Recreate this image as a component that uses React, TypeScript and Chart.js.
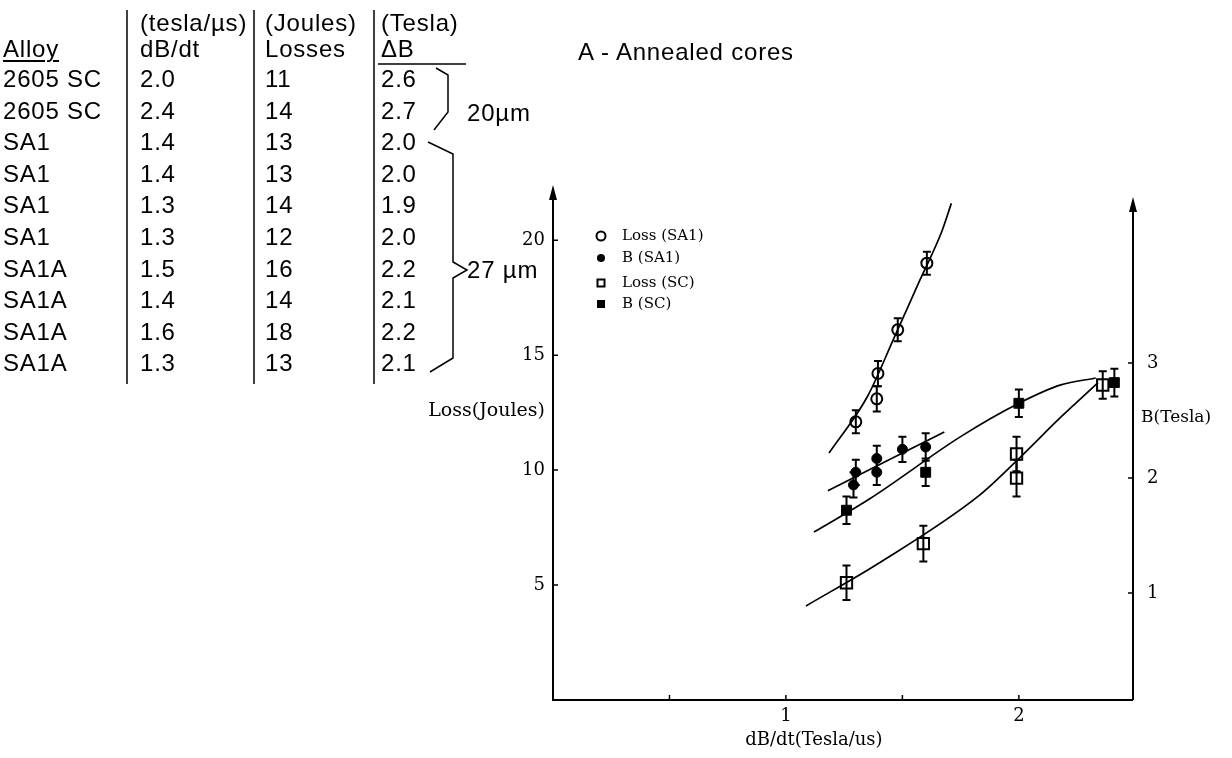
import React, { useEffect, useRef } from 'react';
import { Chart, registerables } from 'chart.js';

Chart.register(...registerables);

// ---------- table data ----------
const tableHeaderUnits = ['', '(tesla/\u00b5s)', '(Joules)', '(Tesla)'];
const tableHeaderNames = ['Alloy', 'dB/dt', 'Losses', '\u0394B'];
const tableAlloys = ['2605 SC', '2605 SC', 'SA1', 'SA1', 'SA1', 'SA1', 'SA1A', 'SA1A', 'SA1A', 'SA1A'];
const tableDbDt = ['2.0', '2.4', '1.4', '1.4', '1.3', '1.3', '1.5', '1.4', '1.6', '1.3'];
const tableLosses = ['11', '14', '13', '13', '14', '12', '16', '14', '18', '13'];
const tableDeltaB = ['2.6', '2.7', '2.0', '2.0', '1.9', '2.0', '2.2', '2.1', '2.2', '2.1'];
const groupLabels = ['20\u00b5m', '27 \u00b5m'];
const figureTitle = 'A - Annealed cores';

// ---------- chart data ----------
const seriesLabels = ['Loss (SA1)', 'B (SA1)', 'Loss (SC)', 'B (SC)'];
const xAxisTitle = 'dB/dt(Tesla/us)';
const yAxisTitle = 'Loss(Joules)';
const y2AxisTitle = 'B(Tesla)';

const lossSA1X = [1.30, 1.39, 1.395, 1.48, 1.605];
const lossSA1Y = [12.1, 13.1, 14.2, 16.1, 19.0];
const lossSA1Err = [0.5, 0.55, 0.55, 0.5, 0.5];

const bSA1X = [1.30, 1.29, 1.39, 1.39, 1.50, 1.60];
const bSA1Y = [2.05, 1.94, 2.17, 2.05, 2.25, 2.27];
const bSA1Err = [0.11, 0.11, 0.11, 0.11, 0.11, 0.12];

const lossSCX = [1.26, 1.59, 1.99, 1.99, 2.36];
const lossSCY = [5.1, 6.8, 10.7, 9.65, 13.7];
const lossSCErr = [0.75, 0.78, 0.75, 0.8, 0.6];

const bSCX = [1.26, 1.60, 2.00, 2.41];
const bSCY = [1.72, 2.05, 2.65, 2.83];
const bSCErr = [0.12, 0.12, 0.12, 0.12];

// fitted curves
const lossSA1CurveX = [1.185, 1.35, 1.46, 1.575, 1.67, 1.71];
const lossSA1CurveY = [10.74, 13.2, 15.65, 18.26, 20.4, 21.6];
const bSA1LineX = [1.18, 1.68];
const bSA1LineY = [1.89, 2.40];
const bSCCurveX = [1.12, 1.36, 1.75, 2.0, 2.18, 2.33];
const bSCCurveY = [1.53, 1.82, 2.36, 2.65, 2.81, 2.87];
const lossSCCurveX = [1.086, 1.40, 1.83, 2.0, 2.18, 2.34];
const lossSCCurveY = [4.09, 5.96, 8.9, 10.5, 12.3, 13.8];

const xTickValues = [0.5, 1, 1.5, 2];
const xTickLabels = ['', '1', '', '2'];
const yTickValues = [5, 10, 15, 20];
const y2TickValues = [1, 2, 3];

const SERIF = '"DejaVu Serif", serif';
const SANS = '"Liberation Sans", Arial, sans-serif';

const pts = (xs: number[], ys: number[]) => xs.map((x, i) => ({ x, y: ys[i] }));

const errorBarPlugin = {
  id: 'errorBars',
  afterDatasetsDraw(chart: any) {
    const ctx = chart.ctx;
    ctx.save();
    ctx.strokeStyle = '#000';
    ctx.lineWidth = 2;
    chart.data.datasets.forEach((ds: any, i: number) => {
      if (!ds.errors) return;
      const meta = chart.getDatasetMeta(i);
      const scale = chart.scales[ds.yAxisID];
      meta.data.forEach((el: any, j: number) => {
        const v = ds.data[j].y;
        const e = ds.errors[j];
        const yt = scale.getPixelForValue(v + e);
        const yb = scale.getPixelForValue(v - e);
        const x = el.x;
        ctx.beginPath();
        ctx.moveTo(x, yt);
        ctx.lineTo(x, yb);
        ctx.moveTo(x - 4, yt);
        ctx.lineTo(x + 4, yt);
        ctx.moveTo(x - 4, yb);
        ctx.lineTo(x + 4, yb);
        ctx.stroke();
      });
    });
    ctx.restore();
  },
};

const axesPlugin = {
  id: 'axesDraw',
  afterDraw(chart: any) {
    const ctx = chart.ctx;
    const { left, right, top, bottom } = chart.chartArea;
    const { x, y, y2 } = chart.scales;
    ctx.save();
    ctx.strokeStyle = '#000';
    ctx.fillStyle = '#000';
    ctx.lineWidth = 2;
    ctx.beginPath();
    ctx.moveTo(left, top + 6);
    ctx.lineTo(left, bottom);
    ctx.lineTo(right, bottom);
    ctx.moveTo(right, bottom);
    ctx.lineTo(right, top + 18);
    ctx.stroke();
    const arrow = (ax: number, ay: number) => {
      ctx.beginPath();
      ctx.moveTo(ax, ay);
      ctx.lineTo(ax - 4, ay + 15);
      ctx.lineTo(ax + 4, ay + 15);
      ctx.closePath();
      ctx.fill();
    };
    arrow(left, top);
    arrow(right, top + 12);
    ctx.lineWidth = 1.5;
    ctx.beginPath();
    yTickValues.forEach((v) => {
      const py = y.getPixelForValue(v);
      ctx.moveTo(left, py);
      ctx.lineTo(left + 5, py);
    });
    y2TickValues.forEach((v) => {
      const py = y2.getPixelForValue(v);
      ctx.moveTo(right, py);
      ctx.lineTo(right - 5, py);
    });
    xTickValues.forEach((v) => {
      const px = x.getPixelForValue(v);
      ctx.moveTo(px, bottom);
      ctx.lineTo(px, bottom - 5);
    });
    ctx.stroke();
    ctx.textBaseline = 'middle';
    ctx.font = '19px ' + SERIF;
    ctx.textAlign = 'right';
    ctx.fillText(yAxisTitle, left - 8, y.getPixelForValue(12.55));
    ctx.font = '17px ' + SERIF;
    ctx.textAlign = 'left';
    ctx.fillText(y2AxisTitle, right + 8, y2.getPixelForValue(2.53));
    ctx.font = '18px ' + SERIF;
    ctx.textAlign = 'center';
    ctx.fillText(xAxisTitle, x.getPixelForValue(1.12), bottom + 40);
    ctx.restore();
  },
};

const legendPlugin = {
  id: 'customLegend',
  afterDraw(chart: any) {
    const ctx = chart.ctx;
    const { left, top } = chart.chartArea;
    const mx = left + 48;
    const tx = left + 69;
    const rows = [top + 51, top + 73, top + 98, top + 119];
    ctx.save();
    ctx.strokeStyle = '#000';
    ctx.fillStyle = '#000';
    ctx.lineWidth = 2;
    ctx.beginPath();
    ctx.arc(mx, rows[0], 4.5, 0, Math.PI * 2);
    ctx.stroke();
    ctx.beginPath();
    ctx.arc(mx, rows[1], 4, 0, Math.PI * 2);
    ctx.fill();
    ctx.strokeRect(mx - 3.5, rows[2] - 3.5, 7, 7);
    ctx.fillRect(mx - 4, rows[3] - 4, 8, 8);
    ctx.font = '15px ' + SERIF;
    ctx.textBaseline = 'middle';
    ctx.textAlign = 'left';
    seriesLabels.forEach((t, i) => ctx.fillText(t, tx, rows[i]));
    ctx.restore();
  },
};

function Txt(props: { x: number; y: number; text: string; underline?: boolean }) {
  return (
    <div
      style={{
        position: 'absolute',
        left: props.x,
        top: props.y - 15,
        height: 30,
        lineHeight: '30px',
        fontSize: 24,
        letterSpacing: '0.8px',
        fontFamily: SANS,
        color: '#000',
        whiteSpace: 'nowrap',
        textDecoration: props.underline ? 'underline' : 'none',
        textDecorationThickness: props.underline ? '1.5px' : undefined,
        textUnderlineOffset: props.underline ? '3px' : undefined,
      }}
    >
      {props.text}
    </div>
  );
}

export default function App() {
  const canvasRef = useRef<HTMLCanvasElement>(null);

  useEffect(() => {
    const canvas = canvasRef.current;
    if (!canvas) return;
    const black = '#000';
    const curve = (xs: number[], ys: number[], axis: string) => ({
      type: 'line' as const,
      data: pts(xs, ys),
      yAxisID: axis,
      borderColor: black,
      borderWidth: 1.7,
      pointRadius: 0,
      fill: false,
      cubicInterpolationMode: 'monotone' as const,
    });
    const chart = new Chart(canvas, {
      type: 'scatter',
      data: {
        datasets: [
          curve(lossSA1CurveX, lossSA1CurveY, 'y'),
          curve(bSA1LineX, bSA1LineY, 'y2'),
          curve(bSCCurveX, bSCCurveY, 'y2'),
          curve(lossSCCurveX, lossSCCurveY, 'y'),
          {
            label: seriesLabels[0],
            data: pts(lossSA1X, lossSA1Y),
            yAxisID: 'y',
            pointStyle: 'circle',
            pointRadius: 5.5,
            pointBackgroundColor: '#fff',
            pointBorderColor: black,
            pointBorderWidth: 2,
            errors: lossSA1Err,
          } as any,
          {
            label: seriesLabels[1],
            data: pts(bSA1X, bSA1Y),
            yAxisID: 'y2',
            pointStyle: 'circle',
            pointRadius: 5,
            pointBackgroundColor: black,
            pointBorderColor: black,
            pointBorderWidth: 1,
            errors: bSA1Err,
          } as any,
          {
            label: seriesLabels[2],
            data: pts(lossSCX, lossSCY),
            yAxisID: 'y',
            pointStyle: 'rect',
            pointRadius: 8,
            pointBackgroundColor: '#fff',
            pointBorderColor: black,
            pointBorderWidth: 2,
            errors: lossSCErr,
          } as any,
          {
            label: seriesLabels[3],
            data: pts(bSCX, bSCY),
            yAxisID: 'y2',
            pointStyle: 'rect',
            pointRadius: 7,
            pointBackgroundColor: black,
            pointBorderColor: black,
            pointBorderWidth: 1,
            errors: bSCErr,
          } as any,
        ],
      },
      options: {
        animation: false,
        responsive: false,
        events: [],
        layout: { padding: { left: 493, right: 39, top: 185, bottom: 0 } },
        plugins: { legend: { display: false }, tooltip: { enabled: false } },
        scales: {
          x: {
            type: 'linear',
            position: 'bottom',
            min: 0,
            max: 2.49,
            grid: { display: false, drawTicks: false },
            border: { display: false },
            afterBuildTicks: (s: any) => {
              s.ticks = xTickValues.map((v) => ({ value: v }));
            },
            ticks: {
              autoSkip: false,
              maxRotation: 0,
              padding: 6,
              color: '#000',
              font: { size: 18, family: SERIF },
              callback: (v: any) => xTickLabels[xTickValues.indexOf(Number(v))] ?? '',
            },
            afterFit: (s: any) => {
              s.height = 58;
            },
          },
          y: {
            type: 'linear',
            position: 'left',
            min: 0,
            max: 22.4,
            grid: { display: false, drawTicks: false },
            border: { display: false },
            afterBuildTicks: (s: any) => {
              s.ticks = yTickValues.map((v) => ({ value: v }));
            },
            ticks: {
              autoSkip: false,
              padding: 8,
              color: '#000',
              font: { size: 18, family: SERIF },
            },
            afterFit: (s: any) => {
              s.width = 60;
            },
          },
          y2: {
            type: 'linear',
            position: 'right',
            min: 0.07,
            max: 4.548,
            grid: { display: false, drawTicks: false },
            border: { display: false },
            afterBuildTicks: (s: any) => {
              s.ticks = y2TickValues.map((v) => ({ value: v }));
            },
            ticks: {
              autoSkip: false,
              padding: 14,
              color: '#000',
              font: { size: 18, family: SERIF },
            },
            afterFit: (s: any) => {
              s.width = 60;
            },
          },
        },
      } as any,
      plugins: [errorBarPlugin, axesPlugin, legendPlugin],
    });
    return () => chart.destroy();
  }, []);

  const rowY = (i: number) => 79 + i * 31.6;
  const colX = [3, 140, 265, 381];
  const columns = [tableAlloys, tableDbDt, tableLosses, tableDeltaB];

  return (
    <div style={{ position: 'absolute', left: 0, top: 0, width: 1232, height: 758, background: '#fff', overflow: 'hidden' }}>
      <canvas ref={canvasRef} width={1232} height={758} style={{ position: 'absolute', left: 0, top: 0 }} />
      {tableHeaderUnits.map((t, c) => (t ? <Txt key={'hu' + c} x={colX[c]} y={23} text={t} /> : null))}
      {tableHeaderNames.map((t, c) => (
        <Txt key={'hn' + c} x={colX[c]} y={49} text={t} underline={c === 0} />
      ))}
      {columns.map((col, c) => col.map((t, i) => <Txt key={c + '-' + i} x={colX[c]} y={rowY(i)} text={t} />))}
      <Txt x={467} y={113} text={groupLabels[0]} />
      <Txt x={467} y={270} text={groupLabels[1]} />
      <Txt x={578} y={52} text={figureTitle} />
      <svg width={1232} height={758} style={{ position: 'absolute', left: 0, top: 0, pointerEvents: 'none' }}>
        <g stroke="#000" strokeWidth={1.5} fill="none">
          <line x1={127} y1={10} x2={127} y2={384} />
          <line x1={254} y1={10} x2={254} y2={384} />
          <line x1={374} y1={10} x2={374} y2={384} />
          <line x1={378} y1={64} x2={466} y2={64} />
          <polyline points="436,68 448,75 448,112 434,130" />
          <polyline points="428,142 453,154 453,262 467,270 453,278 453,358 430,372" />
        </g>
      </svg>
    </div>
  );
}
